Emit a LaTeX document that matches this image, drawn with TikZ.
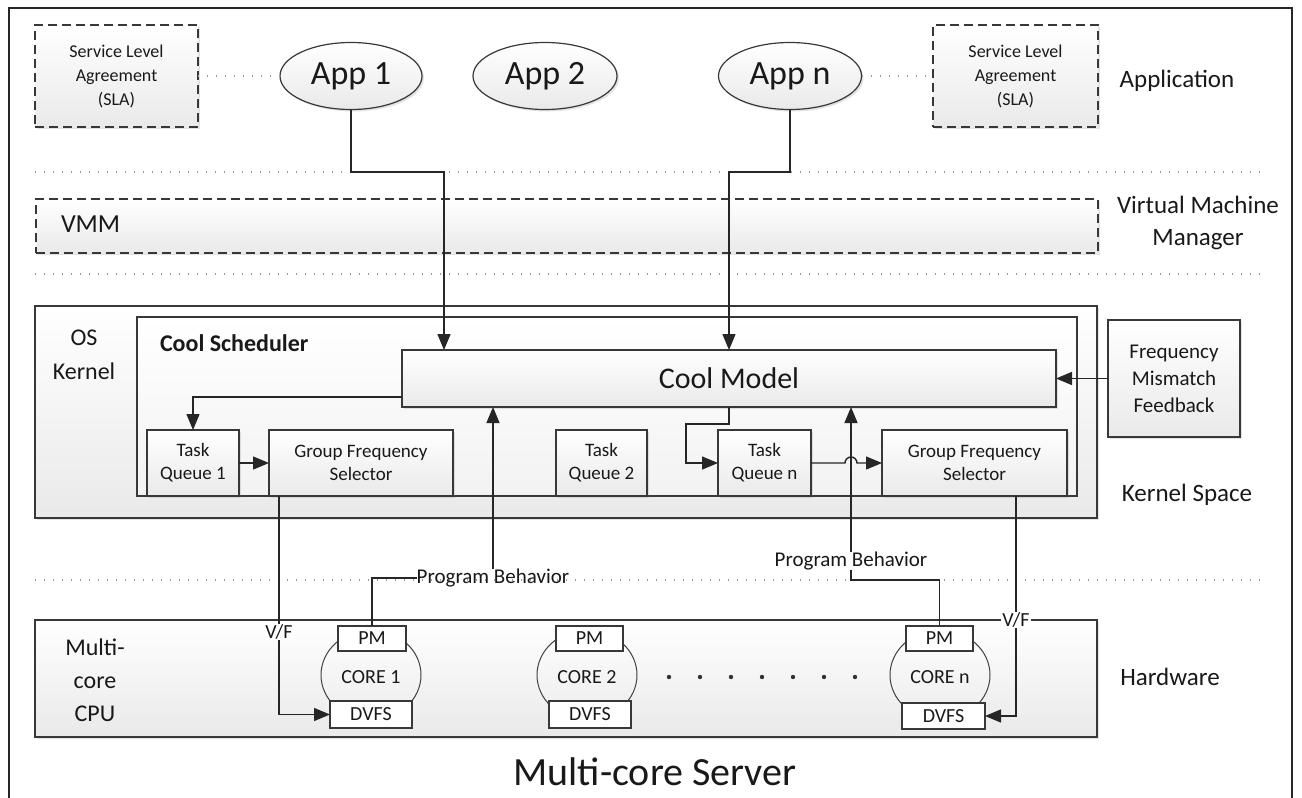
\documentclass[tikz,border=0pt]{standalone}
\usepackage{fontspec}
\setmainfont{Carlito}
\usetikzlibrary{arrows.meta,shapes.geometric,shadows}
\newcommand\myfs[2]{\fontsize{#1}{#2}\selectfont}
\begin{document}
\begin{tikzpicture}[x=1pt,y=-1pt,
  every node/.style={inner sep=0pt, outer sep=0pt, text=black!90},
  bx/.style={draw=black!78, line width=1.2pt, top color=white, bottom color=gray!17,
    drop shadow={opacity=0.22, shadow xshift=2pt, shadow yshift=-2pt}},
  dbx/.style={bx, dash pattern=on 9pt off 5pt},
  wbx/.style={draw=black!78, line width=1.2pt, top color=white, bottom color=gray!10},
  app/.style={ellipse, draw=black!78, line width=1.2pt, top color=white, bottom color=gray!17,
    drop shadow={opacity=0.22, shadow xshift=2pt, shadow yshift=-2pt},
    minimum width=142pt, minimum height=67pt, font=\myfs{34}{40}},
  core/.style={ellipse, draw=black!75, line width=1pt, minimum width=100pt, minimum height=90pt},
  small/.style={draw=black!78, line width=1.2pt, fill=white, font=\myfs{20}{24}},
  lbl/.style={align=center, font=\myfs{25}{32}},
  ln/.style={draw=black!85, line width=1.4pt},
  arr/.style={ln, -{Triangle[length=16pt,width=13pt]}},
  dotln/.style={draw=gray!80, line width=1.7pt, dash pattern=on 1.4pt off 7.6pt},
]
\useasboundingbox (0,0) rectangle (1302,798);
\fill[white] (0,0) rectangle (1302,798);
% outer frame
\draw[black!85, line width=2.2pt] (9,800) -- (9,8) -- (1292,8) -- (1292,800);

% layer separators
\draw[dotln] (35,172) -- (1262,172);
\draw[dotln] (35,274) -- (1262,274);
\draw[dotln] (35,580) -- (1262,580);

% application layer
\node[dbx, minimum width=163pt, minimum height=102pt, align=center, font=\myfs{18}{24}] (sla1) at (116.5,76) {Service Level\\Agreement\\(SLA)};
\node[dbx, minimum width=165pt, minimum height=102pt, align=center, font=\myfs{18}{24}] (sla2) at (1015.5,76) {Service Level\\Agreement\\(SLA)};
\node[app] (app1) at (351,76) {App 1};
\node[app, minimum width=144pt] (app2) at (545,76) {App 2};
\node[app, minimum width=143pt] (appn) at (790,76) {App n};
\node[lbl] (lapp) at (1177,81) {Application};
\draw[dotln] (sla1.east) -- (app1.west);
\draw[dotln] (appn.east) -- (sla2.west);

% VMM
\node[dbx, minimum width=1062pt, minimum height=54pt] (vmm) at (567,226) {};
\node[anchor=west, font=\myfs{26}{30}] (vmmt) at (61,224) {VMM};
\node[lbl] (lvmm) at (1198,223) {Virtual Machine\\Manager};

% OS kernel
\node[bx, minimum width=1062pt, minimum height=212pt] (osk) at (566,412) {};
\node[align=center, font=\myfs{24}{34}] (oskt) at (84,355) {OS\\Kernel};
\node[wbx, minimum width=940pt, minimum height=179pt] (cs) at (607,406.5) {};
\node[anchor=west, font=\myfs{24}{28}\bfseries] (cst) at (160,343) {Cool Scheduler};
\node[bx, minimum width=654pt, minimum height=57pt, font=\myfs{30}{36}] (cm) at (729,378.5) {Cool Model};
\node[bx, minimum width=132pt, minimum height=117pt, align=center, font=\myfs{21}{27}] (fmf) at (1174,378.5) {Frequency\\Mismatch\\Feedback};
\node[bx, minimum width=92pt, minimum height=66pt, align=center, font=\myfs{19}{23}] (tq1) at (193,463) {Task\\Queue 1};
\node[bx, minimum width=184pt, minimum height=66pt, align=center, font=\myfs{19}{23}] (gfs1) at (361,463) {Group Frequency\\Selector};
\node[bx, minimum width=91pt, minimum height=66pt, align=center, font=\myfs{19}{23}] (tq2) at (601.5,463) {Task\\Queue 2};
\node[bx, minimum width=93pt, minimum height=66pt, align=center, font=\myfs{19}{23}] (tqn) at (764.5,463) {Task\\Queue n};
\node[bx, minimum width=185pt, minimum height=66pt, align=center, font=\myfs{19}{23}] (gfsn) at (974.5,463) {Group Frequency\\Selector};
\node[lbl] (lks) at (1187,495) {Kernel Space};

% hardware
\node[bx, minimum width=1062pt, minimum height=117pt] (hw) at (566,678.5) {};
\node[align=center, font=\myfs{24}{33}] (cpu) at (95,680) {Multi-\\core\\CPU};
\node[core] (c1) at (371,675) {};
\node[core] (c2) at (587,675) {};
\node[core] (cn) at (940,675) {};
\node[font=\myfs{20}{24}] (c1t) at (371,677) {CORE 1};
\node[font=\myfs{20}{24}] (c2t) at (587,677) {CORE 2};
\node[font=\myfs{20}{24}] (cnt) at (940,677) {CORE n};
\node[small, minimum width=68pt, minimum height=25pt] (pm1) at (372,638.5) {PM};
\node[small, minimum width=67pt, minimum height=25pt] (pm2) at (589.5,638.5) {PM};
\node[small, minimum width=67pt, minimum height=25pt] (pmn) at (939.5,638.5) {PM};
\node[small, minimum width=82pt, minimum height=27pt] (dv1) at (371,714.5) {DVFS};
\node[small, minimum width=82pt, minimum height=27pt] (dv2) at (590,714.5) {DVFS};
\node[small, minimum width=83pt, minimum height=26pt] (dvn) at (943.5,716) {DVFS};
\foreach \i in {0,...,6} \fill[black!80] (669+31*\i,677) circle (2.2);
\node[lbl] (lhw) at (1170,677) {Hardware};
\node[font=\myfs{40}{46}] (srv) at (655,772) {Multi-core Server};

% connectors: applications to Cool Model
\coordinate (a1) at (444,172);
\coordinate (an) at (729,172);
\draw[arr] (app1.south) |- (a1) -- (a1 |- cm.north);
\draw[arr] (appn.south) |- (an) -- (an |- cm.north);

% Cool Model to task queues
\draw[arr] (cm.west |- 0,397) -| (tq1.north);
\coordinate (k1) at (729,424);
\draw[arr] (k1 |- cm.south) -- (k1) -| (686,0 |- tqn.west) -- (tqn.west);
\draw[arr] (tq1.east) -- (gfs1.west);
\draw[arr] (tqn.east) -- (845,463) arc[start angle=180, end angle=360, radius=6] -- (gfsn.west);
\draw[arr] (fmf.west) -- (cm.east);

% program behaviour feedback
\node[font=\myfs{21}{24}] (pb1) at (493,578) {Program Behavior};
\node[font=\myfs{21}{24}] (pb2) at (851,561) {Program Behavior};
\draw[ln] (pm1.north) |- (pb1.west);
\draw[arr] (pb1.north) -- (pb1.north |- cm.south);
\coordinate (pbb) at (851,580);
\draw[ln] (pmn.north) |- (pbb) -- (pb2.south);
\draw[arr] (pb2.north) -- (pb2.north |- cm.south);

% V/F
\draw[arr] (279,0 |- gfs1.south) |- (dv1.west);
\draw[arr] (1016,0 |- gfsn.south) |- (dvn.east);
\node[fill=white, inner sep=1pt, font=\myfs{20}{24}] (vf1) at (279,632) {V/F};
\node[fill=white, inner sep=1pt, font=\myfs{20}{24}] (vf2) at (1016,620) {V/F};
\end{tikzpicture}
\end{document}
